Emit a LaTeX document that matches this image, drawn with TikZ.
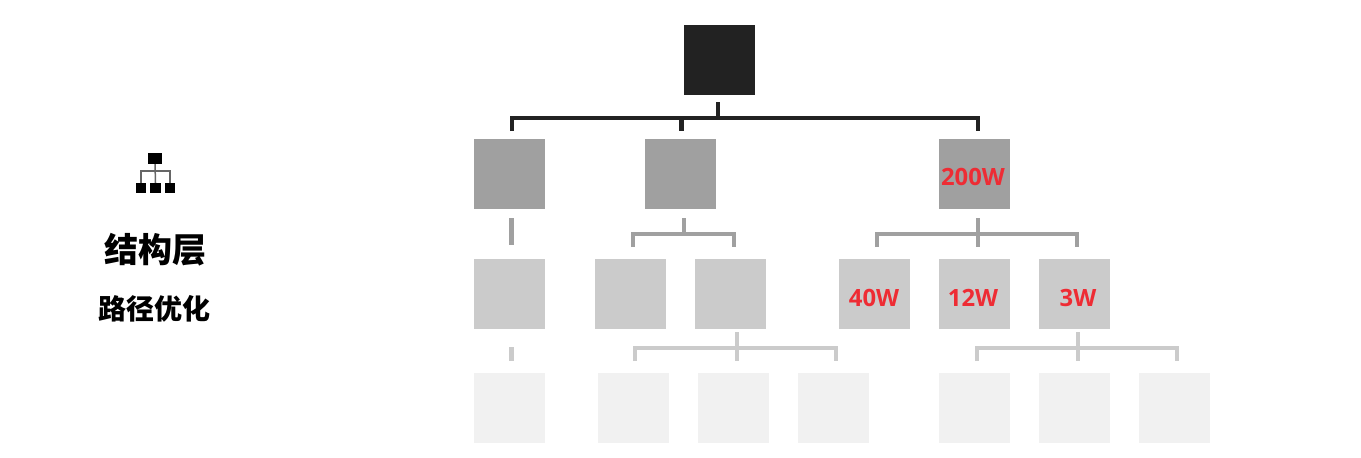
\documentclass[tikz,border=0pt]{standalone}
\usepackage{fontspec}
\setmainfont{Open Sans}
\newfontfamily\cjk{Noto Sans CJK SC}
\usepackage{tikz}

\definecolor{boxdark}{HTML}{222222}
\definecolor{boxmid}{HTML}{A0A0A0}
\definecolor{boxlight}{HTML}{CBCBCB}
\definecolor{boxpale}{HTML}{F1F1F1}
\definecolor{wattred}{HTML}{EE2C34}

\tikzset{
  box/.style={inner sep=0pt,minimum width=71.5pt,minimum height=70pt},
  boxA/.style={box,fill=boxdark},
  boxB/.style={box,fill=boxmid},
  boxC/.style={box,fill=boxlight},
  boxD/.style={box,fill=boxpale},
  linkA/.style={draw=boxdark,line width=4.5pt},
  linkB/.style={draw=boxmid,line width=4.5pt},
  linkC/.style={draw=boxlight,line width=4.5pt},
  watt/.style={inner sep=0pt,text=wattred,font=\fontsize{23.8}{23.8}\selectfont\bfseries},
  icobox/.style={inner sep=0pt,fill=black},
  icolink/.style={draw=black!60,line width=1.5pt},
}

\begin{document}
\begin{tikzpicture}[x=1pt,y=-1pt]
    \useasboundingbox (0,0) rectangle (1361,458);
    % boxes, top down
    \node[boxA] (root) at (719.5,60) {};

    \node[boxB] (b1) at (509.7,174) {};
    \node[boxB] (b2) at (680.7,174) {};
    \node[boxB] (b3) at (974.7,174) {};

    \node[boxC] (c1) at (509.7,294) {};
    \node[boxC] (c2) at (630.7,294) {};
    \node[boxC] (c3) at (730.7,294) {};
    \node[boxC] (c4) at (874.7,294) {};
    \node[boxC] (c5) at (974.7,294) {};
    \node[boxC] (c6) at (1074.7,294) {};

    \node[boxD] (d1) at (509.7,408) {};
    \node[boxD] (d2) at (633.7,408) {};
    \node[boxD] (d3) at (733.7,408) {};
    \node[boxD] (d4) at (833.7,408) {};
    \node[boxD] (d5) at (974.7,408) {};
    \node[boxD] (d6) at (1074.7,408) {};
    \node[boxD] (d7) at (1174.7,408) {};

    % red values
    \node[watt] (w200) at (973,177) {200W};
    \node[watt] (w40) at (874,298) {40W};
    \node[watt] (w12) at (973,298) {12W};
    \node[watt] (w3) at (1078,298) {3W};

    % branch points
    \coordinate (ja) at (718,118);
    \coordinate (jb) at (684,234);
    \coordinate (jc) at (978,234);
    \coordinate (jd) at (737,348);
    \coordinate (je) at (1078,348);

    % root to second row
    \draw[linkA] (512,131) |- (ja) -| (978,131);
    \draw[linkA] (718,102) -- (ja);
    \draw[linkA] (681.5,118) -- (681.5,131);

    % second row to third row
    \draw[linkB] (511.5,218) -- (511.5,245);
    \draw[linkB] (633,247) |- (jb) -| (734,247);
    \draw[linkB] (684,218) -- (jb);
    \draw[linkB] (877,247) |- (jc) -| (1077,247);
    \draw[linkB] (978,218) -- (978,247);

    % third row to last row
    \draw[linkC] (511.5,347) -- (511.5,361);
    \draw[linkC] (635,361) |- (jd) -| (836,361);
    \draw[linkC] (737,332) -- (737,361);
    \draw[linkC] (977,361) |- (je) -| (1177,361);
    \draw[linkC] (1078,332) -- (1078,361);

    % small tree icon
    \node[icobox,minimum width=14.5pt,minimum height=11pt] (icotop) at (155,158.5) {};
    \node[icobox,minimum width=10.5pt,minimum height=10pt] (icoa) at (141,188) {};
    \node[icobox,minimum width=10.5pt,minimum height=10pt] (icob) at (155.5,188) {};
    \node[icobox,minimum width=10.5pt,minimum height=10pt] (icoc) at (170,188) {};
    \coordinate (icoj) at (155.5,171);
    \draw[icolink] (icoa.north) |- (icoj) -| (icoc.north);
    \draw[icolink] (icotop.south) -- (icob.north);

    % left labels
    \node[inner sep=0pt,font=\cjk\fontsize{34}{34}\selectfont\bfseries] (lay) at (155,249.5) {结构层};
    \node[inner sep=0pt,font=\cjk\fontsize{28}{28}\selectfont\bfseries] (sub) at (154,308.5) {路径优化};
\end{tikzpicture}
\end{document}
